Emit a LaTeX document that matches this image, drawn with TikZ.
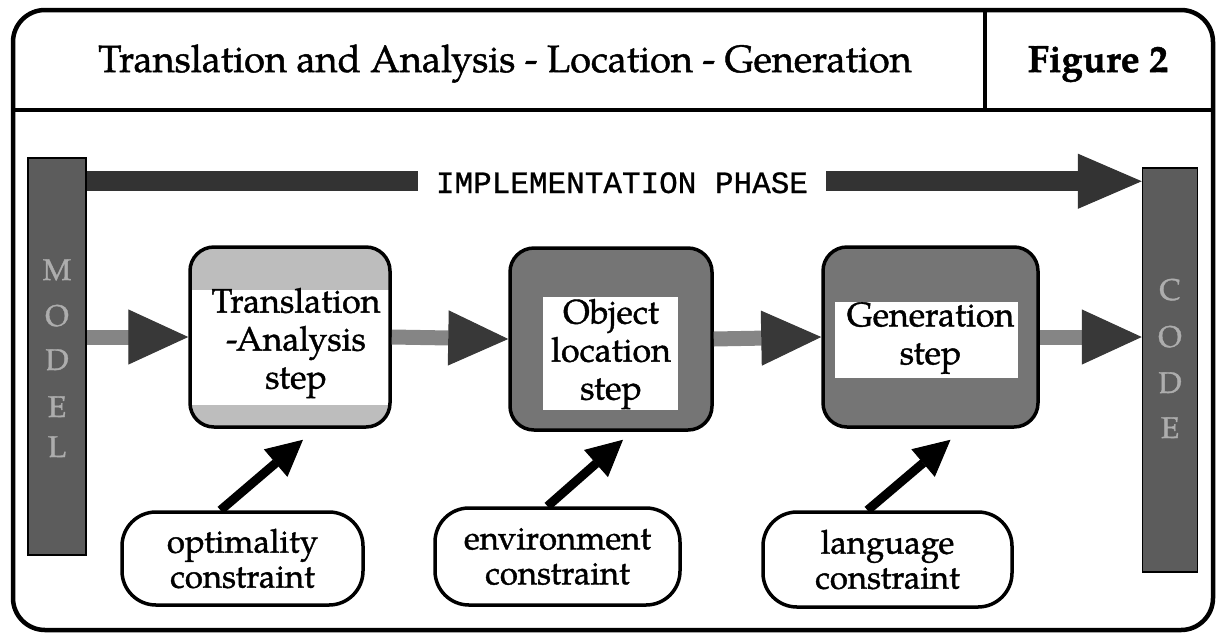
\documentclass[tikz,border=0pt]{standalone}
\usepackage{fontspec}
\setmainfont{TeX Gyre Pagella}[FakeBold=1.2]
\newfontfamily\phasefont{Liberation Mono}[FakeBold=0.8]
\usetikzlibrary{arrows.meta,calc}

\definecolor{barfill}{gray}{0.36}
\definecolor{stepdark}{gray}{0.46}
\definecolor{steplight}{gray}{0.74}
\definecolor{shaftgray}{gray}{0.52}
\definecolor{headgray}{gray}{0.22}
\definecolor{phasegray}{gray}{0.2}
\definecolor{lettergray}{gray}{0.68}

\begin{document}
\begin{tikzpicture}[x=1pt,y=-1pt,
  frame/.style={line width=4.5pt, rounded corners=32pt},
  rule/.style={line width=3.5pt},
  bar/.style={draw=black, line width=1.5pt, fill=barfill, inner sep=0pt},
  barletter/.style={anchor=base, text=lettergray, font=\fontsize{30}{30}\selectfont},
  stepbox/.style={draw=black, line width=3.5pt, rounded corners=24pt, inner sep=0pt},
  steptext/.style={align=center, font=\fontsize{34}{38}\selectfont, inner sep=0pt},
  cbox/.style={draw=black, line width=3.5pt, rounded corners=34pt, fill=white,
    align=center, inner sep=0pt, font=\fontsize{33}{35}\selectfont},
  flow/.style={draw=shaftgray, line width=15pt,
    -{Triangle[length=60pt,width=55pt,line width=1pt,color=headgray]}},
  phase/.style={draw=phasegray, line width=20pt,
    -{Triangle[length=64pt,width=55pt,line width=1pt,color=phasegray]}},
  phaselabel/.style={anchor=base, fill=white, inner xsep=18pt, inner ysep=6pt,
    font=\phasefont\fontsize{31}{31}\selectfont},
  constraint/.style={draw=black, line width=9pt,
    -{Triangle[length=36pt,width=36pt,line width=1pt]}}
]
\useasboundingbox (0,0) rectangle (1218,641);

% outer frame and header
\draw[frame] (13,10) rectangle (1213,630);
\draw[rule] (13,110) -- (1213,110);
\draw[rule] (985,10) -- (985,110);
\node[anchor=base, font=\fontsize{38}{40}\selectfont] (title) at (505,72)
  {Translation and Analysis - Location - Generation};
\node[anchor=base, font=\bfseries\fontsize{38}{40}\selectfont] (fig) at (1098,72)
  {Figure 2};

% input and output bars
\node[bar, minimum width=58pt, minimum height=397pt] (model) at (57,356.5) {};
\node[bar, minimum width=55pt, minimum height=404pt] (code) at (1170,370) {};
\foreach \ch/\yy [count=\i] in {M/280,O/326,D/370,E/417,L/457}
  \node[barletter, name=ml\i] at (57,\yy) {\ch};
\foreach \ch/\yy [count=\i] in {C/300,O/347,D/393,E/438}
  \node[barletter, name=cl\i] at (1170,\yy) {\ch};

% the three steps
\node[stepbox, minimum width=200pt, minimum height=180pt,
  path picture={
    \fill[steplight] (path picture bounding box.north west) rectangle (path picture bounding box.south east);
    \fill[white, sharp corners] ([yshift=-43pt]path picture bounding box.north west) rectangle ([yshift=22pt]path picture bounding box.south east);
  }] (trans) at (290,337) {};
\node[stepbox, minimum width=202pt, minimum height=182pt,
  path picture={
    \fill[stepdark] (path picture bounding box.north west) rectangle (path picture bounding box.south east);
    \fill[white, sharp corners] ([xshift=33pt,yshift=-49pt]path picture bounding box.north west) rectangle ([xshift=-34pt,yshift=20pt]path picture bounding box.south east);
  }] (obj) at (611,339) {};
\node[stepbox, minimum width=215pt, minimum height=180pt,
  path picture={
    \fill[stepdark] (path picture bounding box.north west) rectangle (path picture bounding box.south east);
    \fill[white, sharp corners] ([xshift=12pt,yshift=-55pt]path picture bounding box.north west) rectangle ([xshift=-20pt,yshift=49pt]path picture bounding box.south east);
  }] (gen) at (930.5,337) {};

\node[steptext] (transtext) at ($(trans.center)+(6,6)$) {Translation\\-Analysis\\step};
\node[steptext] (objtext) at ($(obj.center)+(0,15)$) {Object\\location\\step};
\node[steptext] (gentext) at ($(gen.center)+(0,1)$) {Generation\\step};

% constraints
\node[cbox, minimum width=241pt, minimum height=93pt] (opt) at (242.5,558.5) {optimality\\constraint};
\node[cbox, minimum width=245pt, minimum height=97pt] (env) at (557.5,556.5) {environment\\constraint};
\node[cbox, minimum width=249pt, minimum height=95pt] (lang) at (887.5,559.5) {language\\constraint};

% implementation phase arrow
\coordinate (phasestart) at ($(model.north east)+(0,24)$);
\draw[phase] (phasestart) -- (phasestart -| code.west);
\node[phaselabel] (phasetext) at (622,193) {IMPLEMENTATION PHASE};

% flow between the steps
\draw[flow] (trans.west -| model.east) -- (trans.west);
\draw[flow] (trans.east) -- (obj.west);
\draw[flow] (obj.east) -- (gen.west);
\draw[flow] (gen.east) -- (gen.east -| code.west);

% constraints acting on the steps
\coordinate (optend) at ($(trans.south)+(13,11)$);
\coordinate (envend) at ($(obj.south)+(12,8)$);
\coordinate (langend) at ($(gen.south)+(20,11)$);
\draw[constraint] ($(opt.north)+(-22,0)$) -- (optend);
\draw[constraint] ($(env.north)+(-10,0)$) -- (envend);
\draw[constraint] ($(lang.north)+(-20,0)$) -- (langend);
\end{tikzpicture}
\end{document}
